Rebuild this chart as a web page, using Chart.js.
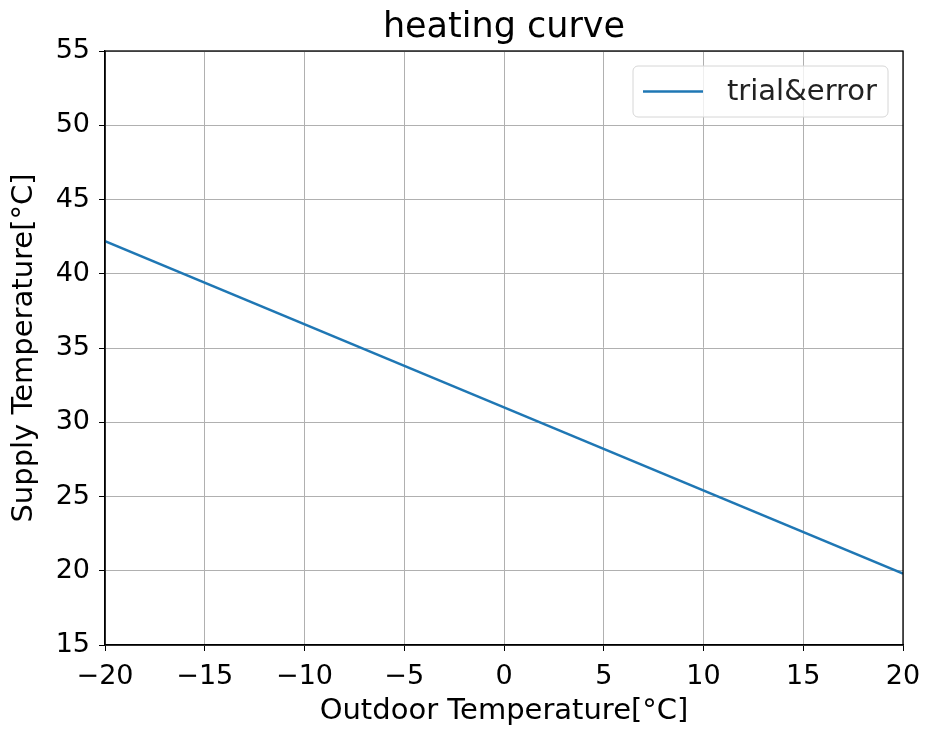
<!DOCTYPE html>
<html>
<head>
<meta charset="utf-8">
<script src="https://cdn.jsdelivr.net/npm/chart.js@4/dist/chart.umd.min.js"></script>
<style>
html,body{margin:0;padding:0;background:#fff;}
canvas{display:block;}
</style>
</head>
<body>
<canvas id="c" width="925" height="729"></canvas>
<script>
const outdoorTemps = [-20, 0, 20];
const supplyTemps = [42.2, 31.0, 19.8];
const xTicks = [-20, -15, -10, -5, 0, 5, 10, 15, 20];
const yTicks = [15, 20, 25, 30, 35, 40, 45, 50, 55];
const seriesName = 'trial&error';
const titleText = 'heating curve';
const xLabel = 'Outdoor Temperature[°C]';
const yLabel = 'Supply Temperature[°C]';

const FONT = "'DejaVu Sans', sans-serif";
const LINE_COLOR = '#1f77b4';

const frameTitleLegend = {
  id: 'frameTitleLegend',
  afterDatasetsDraw(chart) {
    const {ctx, chartArea: a} = chart;
    ctx.save();
    ctx.strokeStyle = '#000';
    ctx.lineWidth = 1.3;
    ctx.strokeRect(a.left, a.top, a.right - a.left, a.bottom - a.top);
    ctx.restore();
  },
  afterDraw(chart) {
    const {ctx, chartArea: a} = chart;
    ctx.save();
    // title centred over the plot area
    ctx.fillStyle = '#000';
    ctx.font = '35px ' + FONT;
    ctx.textAlign = 'center';
    ctx.textBaseline = 'alphabetic';
    ctx.fillText(titleText, (a.left + a.right) / 2, a.top - 14);
    // legend inside the plot area, upper right
    const bx = a.right - 270, by = a.top + 15, bw = 255, bh = 51, r = 5;
    ctx.beginPath();
    ctx.moveTo(bx + r, by);
    ctx.arcTo(bx + bw, by, bx + bw, by + bh, r);
    ctx.arcTo(bx + bw, by + bh, bx, by + bh, r);
    ctx.arcTo(bx, by + bh, bx, by, r);
    ctx.arcTo(bx, by, bx + bw, by, r);
    ctx.closePath();
    ctx.fillStyle = 'rgba(255,255,255,0.8)';
    ctx.fill();
    ctx.strokeStyle = '#d6d6d6';
    ctx.lineWidth = 1;
    ctx.stroke();
    const ly = by + bh / 2;
    ctx.beginPath();
    ctx.moveTo(bx + 10, ly);
    ctx.lineTo(bx + 70, ly);
    ctx.strokeStyle = LINE_COLOR;
    ctx.lineWidth = 2.5;
    ctx.stroke();
    ctx.fillStyle = '#222';
    ctx.font = '29px ' + FONT;
    ctx.textBaseline = 'middle';
    ctx.textAlign = 'left';
    ctx.fillText(seriesName, bx + 94, ly + 1);
    ctx.restore();
  }
};

new Chart(document.getElementById('c'), {
  type: 'line',
  data: {
    datasets: [{
      label: seriesName,
      data: outdoorTemps.map((x, i) => ({x: x, y: supplyTemps[i]})),
      borderColor: LINE_COLOR,
      borderWidth: 2.5,
      pointRadius: 0,
      tension: 0,
      fill: false
    }]
  },
  options: {
    responsive: false,
    animation: false,
    devicePixelRatio: 1,
    layout: {padding: {left: 0, right: 22, top: 51, bottom: 0}},
    plugins: {
      legend: {display: false},
      tooltip: {enabled: false},
      title: {display: false}
    },
    scales: {
      x: {
        type: 'linear',
        min: -20, max: 20,
        afterBuildTicks: s => { s.ticks = xTicks.map(v => ({value: v})); },
        afterFit: s => { s.height = 84; s.paddingLeft = 0; s.paddingRight = 0; },
        ticks: {
          color: '#000',
          font: {family: FONT, size: 27},
          padding: 10,
          maxRotation: 0,
          autoSkip: false,
          callback: v => String(v).replace('-', '\u2212')
        },
        grid: {color: '#b0b0b0', lineWidth: 1, tickColor: '#000', tickLength: 6, drawTicks: true},
        border: {display: true, color: '#000', width: 1.3},
        title: {
          display: true,
          text: xLabel,
          color: '#000',
          font: {family: FONT, size: 29},
          padding: {top: 4, bottom: 0}
        }
      },
      y: {
        type: 'linear',
        min: 15, max: 55,
        afterBuildTicks: s => { s.ticks = yTicks.map(v => ({value: v})); },
        afterFit: s => { s.width = 105; s.paddingTop = 0; s.paddingBottom = 0; },
        ticks: {
          color: '#000',
          font: {family: FONT, size: 27},
          padding: 9,
          autoSkip: false
        },
        grid: {color: '#b0b0b0', lineWidth: 1, tickColor: '#000', tickLength: 6, drawTicks: true},
        border: {display: true, color: '#000', width: 1.3},
        title: {
          display: true,
          text: yLabel,
          color: '#000',
          font: {family: FONT, size: 29},
          padding: {top: 7, bottom: 0}
        }
      }
    }
  },
  plugins: [frameTitleLegend]
});
</script>
</body>
</html>
